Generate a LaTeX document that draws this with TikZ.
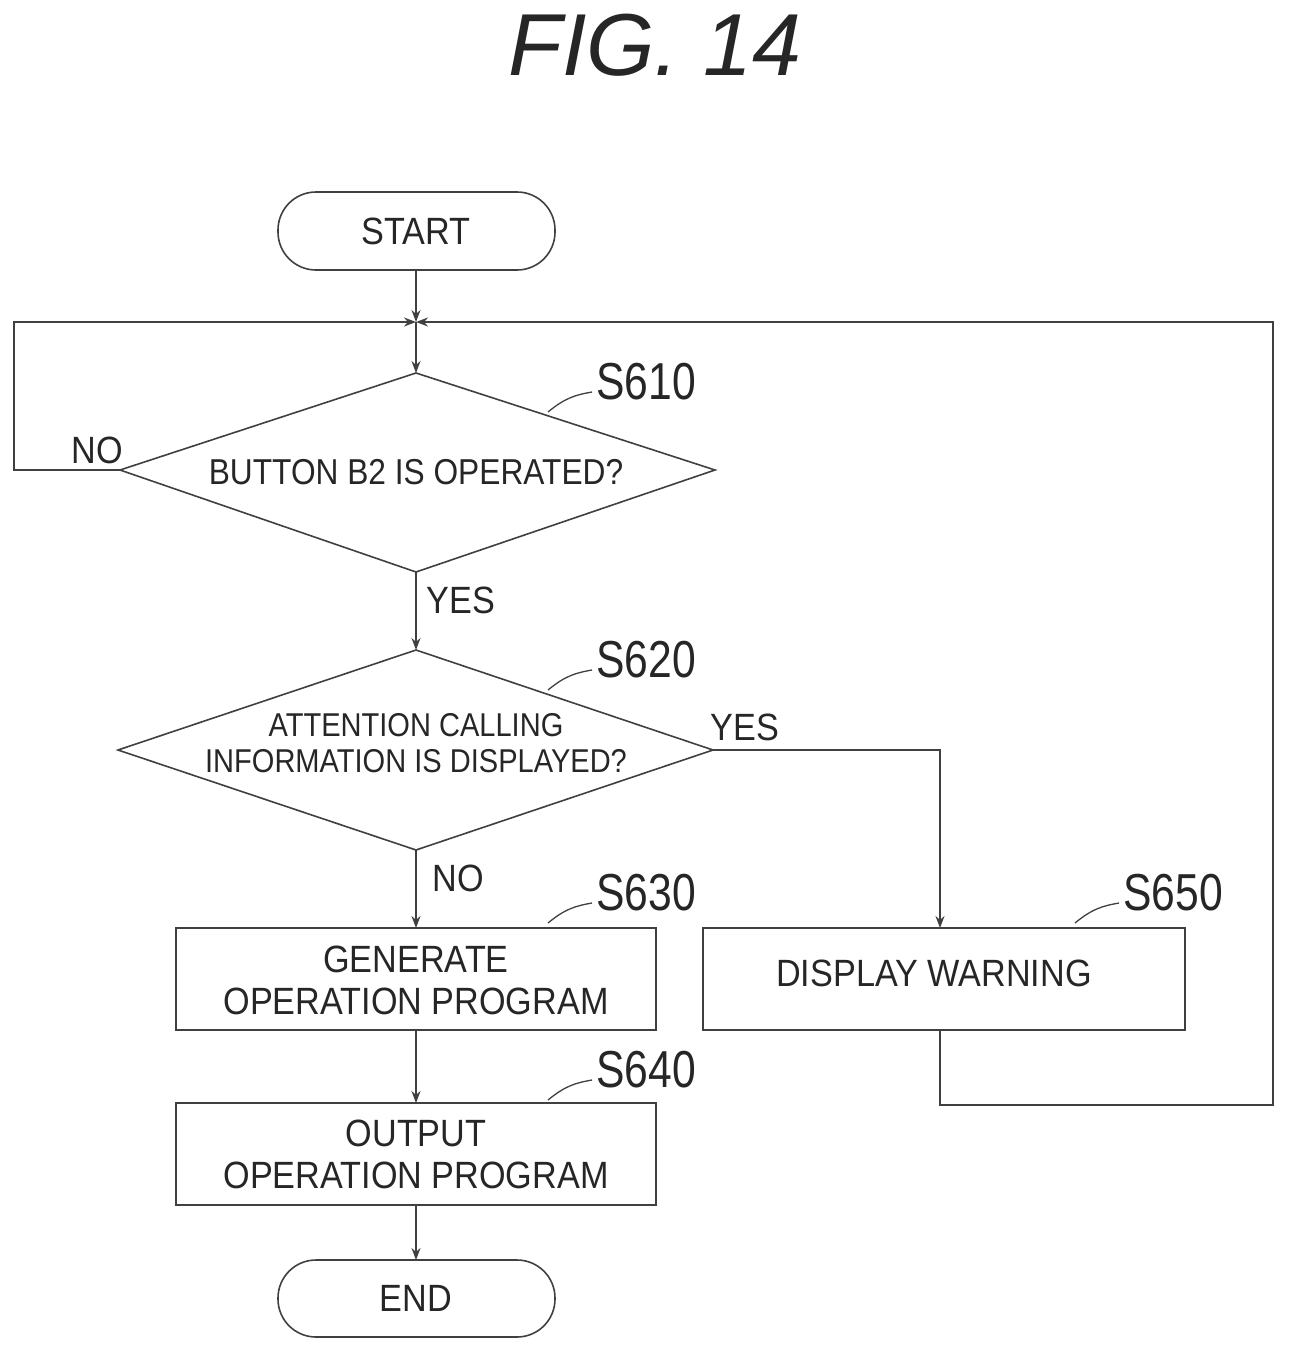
\documentclass[tikz,border=0pt]{standalone}
\usepackage{fontspec}
\setmainfont{Liberation Sans}
\usetikzlibrary{shapes.geometric,arrows.meta}
\begin{document}
\begin{tikzpicture}[x=1pt,y=-1pt,
  line/.style={draw=black!75,line width=1.6pt},
  arr/.style={line,-{Stealth[length=12pt,width=9pt]}},
  txt/.style={font=\fontsize{38}{42}\selectfont,text=black!85,xscale=0.9},
  dtxt/.style={font=\fontsize{33}{36}\selectfont,text=black!85,xscale=0.88,align=center},
  lab/.style={font=\fontsize{52}{56}\selectfont,text=black!85,xscale=0.82},
  term/.style={line,rounded corners=38pt},
  box/.style={line}]
\useasboundingbox (0,0) rectangle (1290,1357);
\node[font=\fontsize{88}{90}\selectfont\itshape,text=black!85] (title) at (655,45) {FIG. 14};
% shapes
\draw[term] (278,192) rectangle (555,270); \node[txt] (start) at (416,231) {START};
\draw[term] (278,1260) rectangle (555,1337); \node[txt] (end) at (416,1298) {END};
\coordinate (st) at (416,270);
\coordinate (en) at (416,1260);
\coordinate (m) at (416,322);
\draw[line] (416,373) -- (715,470) -- (416,572) -- (120,470) -- cycle;
\node[dtxt,font=\fontsize{36}{40}\selectfont] (d1) at (416,472) {BUTTON B2 IS OPERATED?};
\draw[line] (416,650) -- (713,750) -- (416,850) -- (118,750) -- cycle;
\node[dtxt] (d2) at (416,743) {ATTENTION CALLING\\INFORMATION IS DISPLAYED?};
\draw[box] (176,928) rectangle (656,1030);
\node[txt,align=center] (b1) at (416,980) {GENERATE\\OPERATION PROGRAM};
\draw[box] (703,928) rectangle (1185,1030);
\node[txt] (b3) at (934,973) {DISPLAY WARNING};
\draw[box] (176,1103) rectangle (656,1205);
\node[txt,align=center] (b2) at (416,1154) {OUTPUT\\OPERATION PROGRAM};
% step labels
\node[lab] (l1) at (646,382) {S610};
\node[lab] (l2) at (646,660) {S620};
\node[lab] (l3) at (646,893) {S630};
\node[lab] (l4) at (646,1070) {S640};
\node[lab] (l5) at (1173,893) {S650};
\draw[line,line width=1.3pt] (548,412) .. controls (565,398) and (575,395) .. (592,392);
\draw[line,line width=1.3pt] (548,690) .. controls (565,676) and (575,673) .. (592,670);
\draw[line,line width=1.3pt] (548,923) .. controls (565,909) and (575,906) .. (592,903);
\draw[line,line width=1.3pt] (548,1100) .. controls (565,1086) and (575,1083) .. (592,1080);
\draw[line,line width=1.3pt] (1075,923) .. controls (1092,909) and (1102,906) .. (1119,903);
% yes/no
\node[txt] (no1) at (97,450) {NO};
\node[txt] (yes1) at (461,600) {YES};
\node[txt] (yes2) at (745,727) {YES};
\node[txt] (no2) at (458,878) {NO};
% connectors
\draw[arr] (st) -- (m);
\draw[arr] (m) -- (416,373);
\draw[arr] (120,470) -- (14,470) -- (14,322) -- (m);
\draw[arr] (416,572) -- (416,650);
\draw[arr] (713,750) -- (940,750) -- (940,928);
\draw[arr] (416,850) -- (416,928);
\draw[arr] (416,1030) -- (416,1103);
\draw[arr] (416,1205) -- (en);
\draw[arr] (940,1030) -- (940,1105) -- (1273,1105) -- (1273,322) -- (m);
\end{tikzpicture}
\end{document}
